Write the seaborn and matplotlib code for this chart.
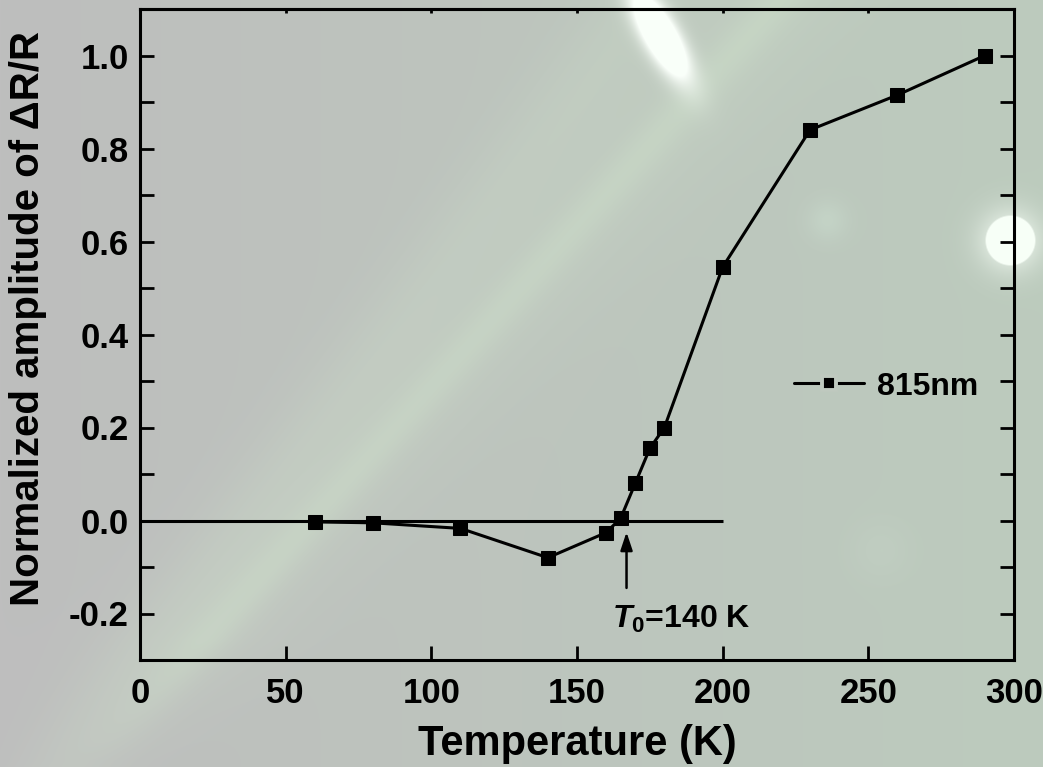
import numpy as np
import matplotlib
matplotlib.use("Agg")
import matplotlib.pyplot as plt
import seaborn as sns
import pandas as pd

# Measured amplitude vs temperature
temperature = [60, 80, 110, 140, 160, 165, 170, 175, 180, 200, 230, 260, 290]
amplitude = [-0.003, -0.005, -0.017, -0.080, -0.026, 0.005, 0.080, 0.155, 0.200, 0.545, 0.840, 0.915, 1.000]
series_name = "815nm"

# Zero reference line span and transition marker
zero_line_x = [0, 200]
t0_x = 167
t0_arrow_y = [-0.145, -0.025]
t0_label = r"$\mathit{T}_{\mathrm{0}}$=140 K"

x_ticks = [0, 50, 100, 150, 200, 250, 300]
y_ticks = [-0.2, 0.0, 0.2, 0.4, 0.6, 0.8, 1.0]

sns.set_theme(style="ticks")
plt.rcParams["font.family"] = ["Liberation Sans", "DejaVu Sans"]
plt.rcParams["font.weight"] = "bold"
plt.rcParams["text.color"] = "black"
plt.rcParams["axes.labelcolor"] = "black"
plt.rcParams["xtick.color"] = "black"
plt.rcParams["ytick.color"] = "black"
plt.rcParams["mathtext.fontset"] = "custom"
plt.rcParams["mathtext.rm"] = "Liberation Sans:bold"
plt.rcParams["mathtext.it"] = "Liberation Sans:bold:italic"
plt.rcParams["mathtext.bf"] = "Liberation Sans:bold"

W, H = 1043, 767
fig = plt.figure(figsize=(W / 100, H / 100), dpi=100)

# Photographic-style backdrop: grey-green wash with a diagonal light streak and glare spots
yy, xx = np.mgrid[0:H, 0:W].astype(float)
t = np.clip(xx / W, 0, 1)
base_l = np.array([190, 190, 190]) / 255.0
base_r = np.array([188, 203, 189]) / 255.0
img = base_l[None, None, :] * (1 - t[..., None]) + base_r[None, None, :] * t[..., None]
# streak centre follows x = 300 + (533 - y) * 0.9
cx = 300 + (533 - yy) * 0.9
d = (xx - cx) * 0.74
streak = 0.45 * np.exp(-(d / 20.0) ** 2) + 0.3 * np.exp(-(d / 65.0) ** 2)
streak *= np.clip((760 - yy) / 120.0, 0, 1)
streak_col = np.array([208, 228, 204]) / 255.0
img = img * (1 - streak[..., None] * 0.6) + streak_col[None, None, :] * (streak[..., None] * 0.6)
# second faint band further left
cx2 = 120 + (700 - yy) * 0.75
d2 = (xx - cx2) * 0.8
band2 = 0.2 * np.exp(-(d2 / 45.0) ** 2)
img = img * (1 - band2[..., None]) + streak_col[None, None, :] * band2[..., None]

def add_glow(img, x0, y0, r, strength, col, core=0.0):
    rr = np.sqrt((xx - x0) ** 2 + (yy - y0) ** 2)
    g = strength * np.exp(-(rr / r) ** 2)
    if core > 0:
        g = np.maximum(g, np.clip((core - rr) / 3.0 + 1, 0, 1))
    g = np.clip(g, 0, 1)[..., None]
    return img * (1 - g) + np.array(col)[None, None, :] * g

img = add_glow(img, 1010, 240, 30, 0.9, [0.97, 1.0, 0.97], core=24)
img = add_glow(img, 827, 220, 20, 0.25, [0.85, 0.95, 0.88])
img = add_glow(img, 880, 550, 30, 0.12, [0.85, 0.92, 0.86])
# elongated glare near the top edge
ang = np.deg2rad(30)
u = (xx - 660) * np.cos(ang) - (yy - 35) * np.sin(ang)
v = (xx - 660) * np.sin(ang) + (yy - 35) * np.cos(ang)
glare = np.exp(-((u / 16.0) ** 2 + (v / 48.0) ** 2))
glare = np.clip(glare * 2.5, 0, 1)[..., None]
img = img * (1 - glare) + np.array([0.98, 1.0, 0.98])[None, None, :] * glare
img = np.clip(img, 0, 1)

bg = fig.add_axes([0, 0, 1, 1], zorder=-10)
bg.imshow(img, aspect="auto", interpolation="bilinear")
bg.axis("off")
fig.patch.set_facecolor((0.75, 0.78, 0.75))

ax = fig.add_axes([140 / W, 1 - 660 / H, (1014 - 140) / W, (660 - 9) / H])
ax.set_facecolor("none")

df = pd.DataFrame({"T": temperature, "A": amplitude})
ax.hlines(0, zero_line_x[0], zero_line_x[1], color="black", linewidth=2.2, zorder=2)
sns.lineplot(data=df, x="T", y="A", ax=ax, color="black", linewidth=2.2,
             marker="s", markersize=10, markeredgecolor="black", label=series_name,
             zorder=3)

ax.annotate("", xy=(t0_x, t0_arrow_y[1]), xytext=(t0_x, t0_arrow_y[0]),
            arrowprops=dict(arrowstyle="-|>,head_length=0.9,head_width=0.3",
                            color="black", lw=1.8, shrinkA=0, shrinkB=0))
ax.text(162, -0.212, t0_label, fontsize=23, fontweight="bold", ha="left", va="center")

ax.set_xlim(0, 300)
ax.set_ylim(-0.3, 1.1)
ax.set_xticks(x_ticks)
ax.set_yticks(y_ticks)
ax.set_yticks(np.arange(-0.3, 1.11, 0.1), minor=True)
ax.set_xticklabels([str(v) for v in x_ticks])
ax.set_yticklabels([f"{v:.1f}" for v in y_ticks])

for s in ax.spines.values():
    s.set_linewidth(2.2)
    s.set_color("black")
ax.tick_params(axis="both", which="major", direction="in", length=10, width=2,
               labelsize=25, colors="black")
ax.tick_params(axis="x", which="major", pad=12)
ax.tick_params(axis="y", which="major", pad=8)
ax.tick_params(axis="y", which="minor", direction="in", length=10, width=2, right=True)
ax.tick_params(axis="y", which="major", right=True)
for lab in ax.get_xticklabels() + ax.get_yticklabels():
    lab.set_fontweight("bold")

# short tick marks along the top edge
top = ax.secondary_xaxis("top")
top.set_xticks(x_ticks)
top.tick_params(direction="in", length=3, width=2, labeltop=False, colors="black")
top.spines["top"].set_linewidth(2.2)

ax.set_xlabel("Temperature (K)", fontsize=30, fontweight="bold", labelpad=10)
ax.set_ylabel("Normalized amplitude of ΔR/R", fontsize=29, fontweight="bold", labelpad=16)
ax.yaxis.label.set_y(0.525)

leg = ax.legend(loc="center left", bbox_to_anchor=(0.715, 0.42), frameon=False,
                fontsize=23, handlelength=2.2, handletextpad=0.4)
for txt in leg.get_texts():
    txt.set_fontweight("bold")
for h in leg.legend_handles:
    h.set_markersize(9.5)
    h.set_markeredgecolor((0.75, 0.79, 0.75))
    h.set_markeredgewidth(2.8)

fig.savefig("out.png", dpi=100)
